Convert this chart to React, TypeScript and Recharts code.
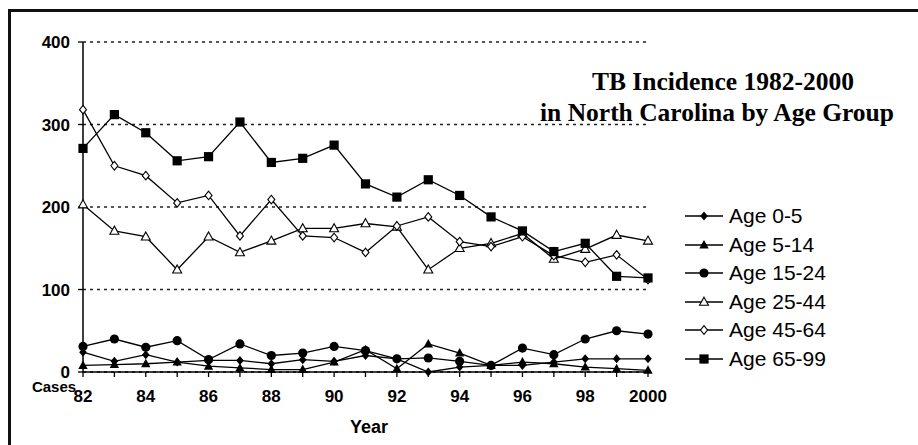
import { LineChart, Line, XAxis, YAxis, CartesianGrid, Legend } from "recharts";

const YEARS = [82, 83, 84, 85, 86, 87, 88, 89, 90, 91, 92, 93, 94, 95, 96, 97, 98, 99, 100];
const AGE_0_5 = [24, 13, 21, 12, 14, 14, 10, 15, 13, 20, 16, 0, 6, 8, 8, 12, 16, 16, 16];
const AGE_5_14 = [8, 9, 10, 12, 7, 5, 3, 3, 12, 27, 4, 34, 23, 8, 12, 10, 6, 4, 2];
const AGE_15_24 = [31, 40, 30, 38, 15, 34, 20, 23, 31, 26, 16, 17, 13, 8, 29, 21, 40, 50, 46];
const AGE_25_44 = [203, 171, 164, 124, 164, 145, 159, 174, 174, 180, 176, 124, 150, 156, 168, 137, 149, 166, 159];
const AGE_45_64 = [318, 250, 238, 205, 214, 165, 209, 165, 163, 145, 177, 188, 158, 152, 164, 141, 133, 142, 112];
const AGE_65_99 = [271, 312, 290, 256, 261, 303, 254, 259, 275, 228, 212, 233, 214, 188, 171, 146, 156, 116, 114];

const Y_TICKS = [0, 100, 200, 300, 400];

const SERIES = [
  { key: "a0", name: "Age 0-5", marker: "diamond" },
  { key: "a5", name: "Age 5-14", marker: "tri" },
  { key: "a15", name: "Age 15-24", marker: "circle" },
  { key: "a25", name: "Age 25-44", marker: "otri" },
  { key: "a45", name: "Age 45-64", marker: "odiamond" },
  { key: "a65", name: "Age 65-99", marker: "square" },
];

const data = YEARS.map((year, i) => ({
  year,
  a0: AGE_0_5[i],
  a5: AGE_5_14[i],
  a15: AGE_15_24[i],
  a25: AGE_25_44[i],
  a45: AGE_45_64[i],
  a65: AGE_65_99[i],
}));

const SANS = "'Liberation Sans', Arial, sans-serif";
const SERIF = "'Liberation Serif', 'Times New Roman', serif";

const Marker = ({ kind, cx, cy }: { kind: string; cx: number; cy: number }) => {
  if (cx == null || cy == null) return null;
  switch (kind) {
    case "diamond":
      return <polygon points={`${cx},${cy - 4.5} ${cx + 3.8},${cy} ${cx},${cy + 4.5} ${cx - 3.8},${cy}`} fill="#000" />;
    case "odiamond":
      return <polygon points={`${cx},${cy - 4.3} ${cx + 3.5},${cy} ${cx},${cy + 4.3} ${cx - 3.5},${cy}`} fill="#fff" stroke="#000" strokeWidth={1.1} />;
    case "tri":
      return <polygon points={`${cx},${cy - 5} ${cx + 4.7},${cy + 3.5} ${cx - 4.7},${cy + 3.5}`} fill="#000" />;
    case "otri":
      return <polygon points={`${cx},${cy - 4.8} ${cx + 4.5},${cy + 3.3} ${cx - 4.5},${cy + 3.3}`} fill="#fff" stroke="#000" strokeWidth={1.1} />;
    case "circle":
      return <circle cx={cx} cy={cy} r={4.6} fill="#000" />;
    case "square":
      return <rect x={cx - 4.6} y={cy - 4.6} width={9.2} height={9.2} fill="#000" />;
    default:
      return null;
  }
};

const XTick = ({ x, y, payload }: any) => {
  const v = payload.value;
  if (v % 2 !== 0) return null;
  return (
    <text x={x} y={y} dy={23} textAnchor="middle" fontFamily={SANS} fontWeight="bold" fontSize={17} fill="#000">
      {v === 100 ? "2000" : String(v)}
    </text>
  );
};

const YTick = ({ x, y, payload }: any) => (
  <text x={x} y={y} dy={6} textAnchor="end" fontFamily={SANS} fontWeight="bold" fontSize={17} fill="#000">
    {payload.value}
  </text>
);

const LegendBox = () => (
  <div>
    {SERIES.map((s) => (
      <div key={s.key} style={{ height: 28.5, display: "flex", alignItems: "center" }}>
        <svg width={38} height={20} style={{ display: "block" }}>
          <line x1={0} x2={38} y1={10} y2={10} stroke="#000" strokeWidth={1.3} />
          <Marker kind={s.marker} cx={19} cy={10} />
        </svg>
        <span style={{ marginLeft: 6, fontFamily: SANS, fontSize: 21, color: "#000", whiteSpace: "nowrap" }}>{s.name}</span>
      </div>
    ))}
  </div>
);

export default function App() {
  return (
    <div style={{ position: "fixed", left: 0, top: 0, width: 918, height: 445, overflow: "hidden", background: "#fff" }}>
      {/* frame: only the top and left edges show in the crop */}
      <div style={{ position: "absolute", left: 8, top: 9, width: 910, height: 3, background: "#111" }} />
      <div style={{ position: "absolute", left: 8, top: 9, width: 3, height: 436, background: "#111" }} />
      <div style={{ position: "absolute", left: 0, top: 0 }}>
        <LineChart width={918} height={445} data={data} margin={{ top: 42, right: 270, bottom: 43, left: 33 }}>
          <CartesianGrid vertical={false} stroke="#222" strokeWidth={1.5} strokeDasharray="3 4" />
          <XAxis
            dataKey="year"
            type="number"
            domain={[82, 100]}
            ticks={YEARS}
            interval={0}
            height={30}
            tick={<XTick />}
            tickSize={5}
            tickLine={{ stroke: "#000", strokeWidth: 1.3 }}
            axisLine={{ stroke: "#000", strokeWidth: 1.5 }}
          />
          <YAxis
            type="number"
            domain={[0, 400]}
            ticks={Y_TICKS}
            width={50}
            tick={<YTick />}
            tickSize={5}
            tickMargin={8}
            tickLine={{ stroke: "#000", strokeWidth: 1.3 }}
            axisLine={{ stroke: "#000", strokeWidth: 1.5 }}
          />
          <Legend
            layout="vertical"
            align="center"
            verticalAlign="middle"
            wrapperStyle={{ left: 685, top: 202, width: 200 }}
            content={<LegendBox />}
          />
          {SERIES.map((s) => (
            <Line
              key={s.key}
              dataKey={s.key}
              name={s.name}
              stroke="#000"
              strokeWidth={1.3}
              isAnimationActive={false}
              dot={(p: any) => <Marker key={`${s.key}-${p.index}`} kind={s.marker} cx={p.cx} cy={p.cy} />}
              activeDot={false}
            />
          ))}
        </LineChart>
      </div>
      <svg width={918} height={445} style={{ position: "absolute", left: 0, top: 0, pointerEvents: "none" }}>
        <text x={723} y={90} textAnchor="middle" fontFamily={SERIF} fontWeight="bold" fontSize={25.5} fill="#000">
          TB Incidence 1982-2000
        </text>
        <text x={717} y={121} textAnchor="middle" fontFamily={SERIF} fontWeight="bold" fontSize={25.5} fill="#000">
          in North Carolina by Age Group
        </text>
        <text x={54} y={392} textAnchor="middle" fontFamily={SANS} fontWeight="bold" fontSize={15} fill="#000">
          Cases
        </text>
        <text x={369} y={433} textAnchor="middle" fontFamily={SANS} fontWeight="bold" fontSize={18} fill="#000">
          Year
        </text>
      </svg>
    </div>
  );
}
